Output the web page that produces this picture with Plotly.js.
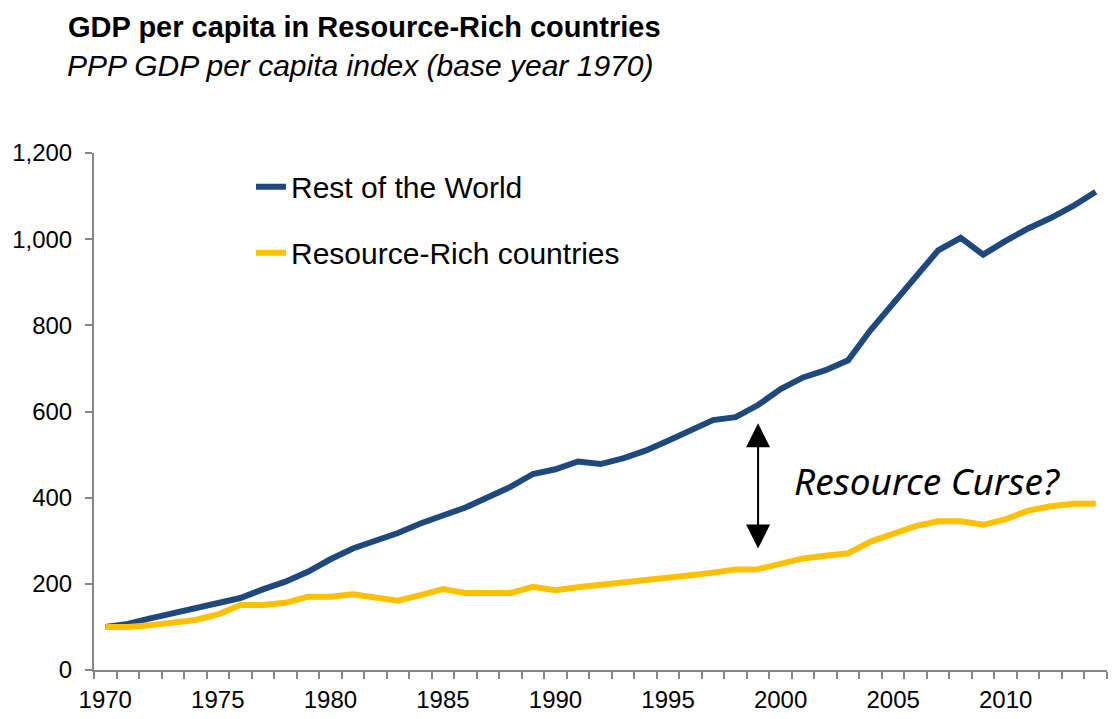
<!DOCTYPE html>
<html>
<head>
<meta charset="utf-8">
<script src="https://cdn.plot.ly/plotly-3.0.1.min.js"></script>
<style>html,body{margin:0;padding:0;background:#fff;}#chart{width:1113px;height:719px;}</style>
</head>
<body>
<div id="chart"></div>
<script>
const years = [];
for (let y = 1970; y <= 2014; y++) years.push(y);

const restOfWorld = [100, 107, 120, 132, 144, 156, 167, 187, 205, 228,
  257, 282, 300, 318, 340, 359, 377, 401, 425, 455,
  466, 484, 478, 491, 509, 532, 555, 580, 587, 615,
  652, 679, 696, 719, 789, 850, 913, 974, 1003, 964,
  996, 1025, 1049, 1077, 1110];

const resourceRich = [100, 100, 104, 110, 116, 129, 151, 151, 156, 170,
  170, 176, 168, 161, 174, 188, 179, 179, 179, 193,
  185, 192, 197, 203, 209, 214, 220, 226, 233, 234,
  246, 259, 265, 271, 298, 315, 334, 345, 345, 337,
  350, 370, 380, 386, 386];

const yTicks = [0, 200, 400, 600, 800, 1000, 1200];
const xLabelYears = [1970, 1975, 1980, 1985, 1990, 1995, 2000, 2005, 2010];

const narrow = '"Liberation Sans Narrow", "Arial Narrow", "Liberation Sans", sans-serif';

const traces = [
  {x: years, y: restOfWorld, type: 'scatter', mode: 'lines', name: 'Rest of the World',
   legendgroup: 'a', line: {color: '#1F497D', width: 6, shape: 'linear'}, hoverinfo: 'x+y'},
  {x: years, y: resourceRich, type: 'scatter', mode: 'lines', name: 'Resource-Rich countries',
   legendgroup: 'b', line: {color: '#FFC000', width: 6}, hoverinfo: 'x+y'}
];

const layout = {
  width: 1113, height: 719,
  margin: {l: 94, r: 6, t: 153, b: 49},
  paper_bgcolor: '#ffffff', plot_bgcolor: '#ffffff',
  font: {family: narrow, color: '#000000', size: 24},
  title: {
    text: '<b>GDP per capita in Resource-Rich countries</b>',
    x: 68/1113, xanchor: 'left', xref: 'container',
    y: 1 - 27/719, yanchor: 'middle', yref: 'container',
    font: {family: narrow, size: 29, color: '#000000'}
  },
  showlegend: true,
  legend: {
    x: 0.155, y: 0.985, xanchor: 'left', yanchor: 'top',
    font: {family: narrow, size: 30, color: '#000000'},
    bgcolor: 'rgba(0,0,0,0)', tracegroupgap: 24, traceorder: 'grouped'
  },
  xaxis: {
    range: [1969.5, 2014.5],
    tickvals: xLabelYears,
    ticktext: xLabelYears.map(String),
    ticks: 'outside', ticklen: 7, tickcolor: 'rgba(0,0,0,0)',
    minor: {tick0: 1969.5, dtick: 1, ticks: 'outside', ticklen: 7, tickcolor: '#868686', tickwidth: 2},
    showline: true, linecolor: '#868686', linewidth: 2,
    showgrid: false, zeroline: false,
    tickfont: {family: narrow, size: 24, color: '#000000'}
  },
  yaxis: {
    range: [0, 1200],
    tickvals: yTicks,
    tickformat: ',d',
    ticks: 'outside', ticklen: 7, tickcolor: '#868686', tickwidth: 2,
    showline: true, linecolor: '#868686', linewidth: 2,
    showgrid: false, zeroline: false,
    ticklabelstandoff: 8,
    tickfont: {family: narrow, size: 24, color: '#000000'}
  },
  annotations: [
    {x: (65 - 94) / 1012.7, y: (670 - 66) / 517, xref: 'paper', yref: 'paper',
     xanchor: 'left', yanchor: 'middle', showarrow: false,
     text: '<i>PPP GDP per capita index (base year 1970)</i>',
     font: {family: narrow, size: 30, color: '#000000'}},
    {x: 1999, y: 282, ax: 1999, ay: 576, xref: 'x', yref: 'y', axref: 'x', ayref: 'y',
     text: '', showarrow: true, arrowhead: 2, arrowside: 'end+start', arrowsize: 2.4,
     arrowwidth: 2, arrowcolor: '#000000', standoff: 0, startstandoff: 0},
    {x: 2006.5, y: 441, xref: 'x', yref: 'y', text: '<i>Resource Curse?</i>', showarrow: false,
     font: {family: '"Noto Sans", sans-serif', size: 37, color: '#000000'}}
  ]
};

Plotly.newPlot('chart', traces, layout, {displayModeBar: false, staticPlot: true});
</script>
</body>
</html>
